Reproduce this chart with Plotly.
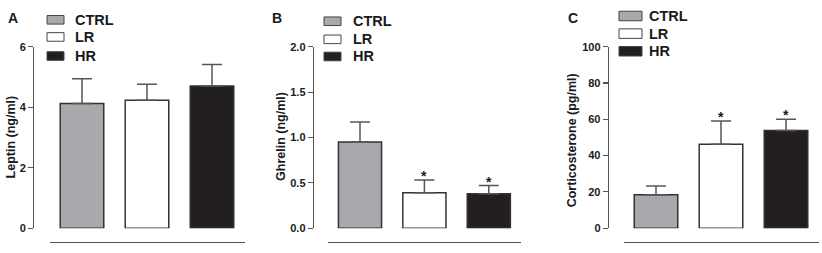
import plotly.graph_objects as go

# ---------------- data ----------------
groups = ["CTRL", "LR", "HR"]
leptin_mean = [4.12, 4.23, 4.70]
leptin_sem = [0.82, 0.53, 0.71]
ghrelin_mean = [0.95, 0.39, 0.38]
ghrelin_sem = [0.22, 0.14, 0.09]
cort_mean = [18.4, 46.3, 53.8]
cort_sem = [4.8, 12.8, 6.3]
ghrelin_star = ["", "*", "*"]
cort_star = ["", "*", "*"]
leptin_star = ["", "", ""]

panel_letters = ["A", "B", "C"]
y_titles = ["Leptin (ng/ml)", "Ghrelin (ng/ml)", "Corticosterone (pg/ml)"]
y_ranges = [[0, 6], [0, 2], [0, 100]]
y_dticks = [2, 0.5, 20]
y_formats = ["d", ".1f", "d"]

# ---------------- style ----------------
W, H = 822, 253
FONT = "Liberation Sans, Arial, sans-serif"
fills = ["#a7a9ac", "#ffffff", "#231f20"]
edge = "#333333"
axis_col = "#555555"
text_col = "#1a1a1a"

def px(x):
    return x / W

def py(y):
    return 1 - y / H

panels = [
    dict(mean=leptin_mean, sem=leptin_sem, star=leptin_star,
         xdom=[49.5, 244.5], yaxis_x=33, title_x=11, title_y=138, letter_x=6,
         leg_box=[47, 64], leg_rows=[14.5, 32.5, 52.5], leg_h=9, leg_text=73),
    dict(mean=ghrelin_mean, sem=ghrelin_sem, star=ghrelin_star,
         xdom=[327.8, 521.0], yaxis_x=312.7, title_x=281, title_y=137.5, letter_x=270,
         leg_box=[324, 341], leg_rows=[16, 35, 53], leg_h=9, leg_text=351),
    dict(mean=cort_mean, sem=cort_sem, star=cort_star,
         xdom=[623.5, 818.5], yaxis_x=607.7, title_x=572, title_y=141, letter_x=566,
         leg_box=[619, 642], leg_rows=[10.5, 29, 47.5], leg_h=10, leg_text=647),
]

fig = go.Figure()
annotations = []
shapes = []
layout_axes = {}

ydom = [py(233.2), py(42.8)]

for i, p in enumerate(panels):
    n = "" if i == 0 else str(i + 1)
    xa, ya = "x" + n, "y" + n
    fig.add_trace(go.Bar(
        x=groups, y=p["mean"], xaxis=xa, yaxis=ya,
        marker=dict(color=fills, line=dict(color=edge, width=1.5)),
        width=0.67,
        error_y=dict(type="data", symmetric=False, array=p["sem"],
                     arrayminus=[None] * len(groups),
                     color=axis_col, thickness=1.5, width=10),
        showlegend=False, hoverinfo="skip",
    ))
    layout_axes["xaxis" + n] = dict(
        domain=[px(p["xdom"][0]), px(p["xdom"][1])], range=[-0.5, 2.5],
        anchor="free", position=py(248), showline=True, linecolor=axis_col,
        linewidth=1, showticklabels=False, ticks="", showgrid=False,
        zeroline=False, type="category", fixedrange=True,
    )
    layout_axes["yaxis" + n] = dict(
        domain=ydom, range=y_ranges[i], dtick=y_dticks[i], tick0=0,
        tickformat=y_formats[i], anchor="free", position=px(p["yaxis_x"]),
        showline=True, linecolor=axis_col, linewidth=1.2, ticks="outside",
        ticklen=5, tickwidth=1.2, tickcolor=axis_col, showgrid=False,
        zeroline=False, tickfont=dict(family=FONT, size=11, color=text_col,
                                      weight="bold"),
        fixedrange=True,
    )
    # significance stars
    for g, m, s, st in zip(groups, p["mean"], p["sem"], p["star"]):
        if st:
            annotations.append(dict(
                x=g, y=m + s, xref=xa, yref=ya, text=st, showarrow=False,
                yanchor="bottom", yshift=-6,
                font=dict(family=FONT, size=14, color=text_col, weight="bold"),
            ))
    # y-axis title
    annotations.append(dict(
        x=px(p["title_x"]), y=py(p["title_y"]), xref="paper", yref="paper",
        text=y_titles[i], textangle=-90, showarrow=False,
        xanchor="center", yanchor="middle",
        font=dict(family=FONT, size=12.5, color=text_col, weight="bold"),
    ))
    # panel letter
    annotations.append(dict(
        x=px(p["letter_x"]), y=py(12.5), xref="paper", yref="paper",
        text=panel_letters[i], showarrow=False, xanchor="left",
        yanchor="middle",
        font=dict(family=FONT, size=14, color=text_col, weight="bold"),
    ))
    # legend swatches + labels
    for g, fc, yc in zip(groups, fills, p["leg_rows"]):
        shapes.append(dict(
            type="rect", xref="paper", yref="paper",
            x0=px(p["leg_box"][0]), x1=px(p["leg_box"][1]),
            y0=py(yc + p["leg_h"] / 2), y1=py(yc - p["leg_h"] / 2),
            fillcolor=fc, line=dict(color="#444444", width=1),
        ))
        annotations.append(dict(
            x=px(p["leg_text"]), y=py(yc), xref="paper", yref="paper",
            text=g, showarrow=False, xanchor="left", yanchor="middle",
            font=dict(family=FONT, size=14.5, color=text_col, weight="bold"),
        ))

fig.update_layout(
    width=W, height=H, margin=dict(l=0, r=0, t=0, b=0),
    paper_bgcolor="white", plot_bgcolor="white",
    font=dict(family=FONT, color=text_col),
    annotations=annotations, shapes=shapes, bargap=0.33,
    **layout_axes,
)

fig.write_html("out.html",
               config={"displayModeBar": False, "staticPlot": True},
               post_script="document.body.style.margin='0';"
                           "document.body.style.overflow='hidden';")
